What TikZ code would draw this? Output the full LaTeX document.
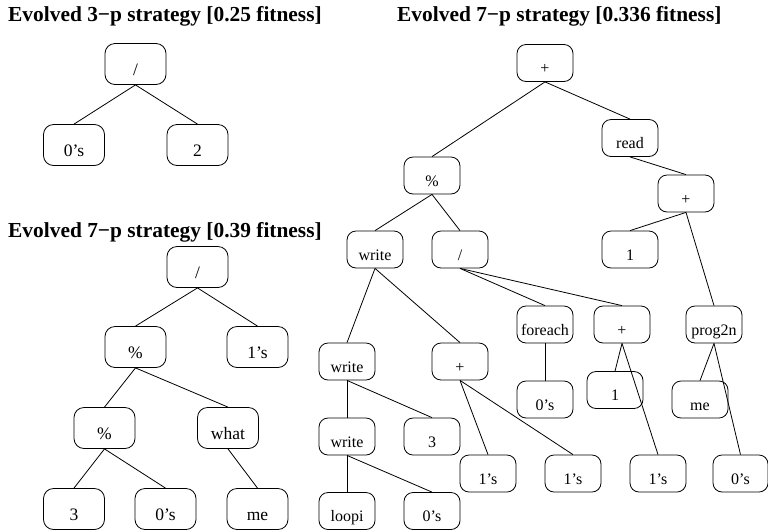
\documentclass[tikz,border=0pt]{standalone}
\usepackage{fontspec}
\setmainfont{Liberation Serif}
\begin{document}
\begin{tikzpicture}[x=1pt,y=-1pt,
  bxL/.style={draw, rounded corners=10pt, minimum width=61pt, minimum height=41pt, inner sep=0pt, text height=23pt, text depth=0pt, font=\fontsize{17.5}{20}\selectfont, line width=0.8pt},
  bxR/.style={draw, rounded corners=9pt, minimum width=56pt, minimum height=37pt, inner sep=0pt, text height=21pt, text depth=0pt, font=\fontsize{16}{19}\selectfont, line width=0.8pt},
  ttl/.style={anchor=base west, inner sep=0pt, font=\fontsize{21.4}{25}\selectfont\bfseries},
  edge/.style={line width=0.8pt}]
\useasboundingbox (0,0) rectangle (768,531);

% titles
\node[ttl] (t1) at (8,21) {Evolved 3−p strategy [0.25 fitness]};
\node[ttl] (t2) at (8,237) {Evolved 7−p strategy [0.39 fitness]};
\node[ttl] (t3) at (397,21) {Evolved 7−p strategy [0.336 fitness]};

% tree 1
\node[bxL] (a0) at (135.5,64) {/};
\node[bxL] (a1) at (74,145) {0's};
\node[bxL] (a2) at (197.5,145) {2};
\draw[edge] (a0.south) -- (a1.north);
\draw[edge] (a0.south) -- (a2.north);

% tree 2
\node[bxL] (b0) at (197.5,267) {/};
\node[bxL] (b1) at (135.5,347) {\%};
\node[bxL] (b2) at (257.5,347) {1's};
\node[bxL] (b3) at (104.5,428) {\%};
\node[bxL] (b4) at (228,428) {what};
\node[bxL] (b5) at (74,509) {3};
\node[bxL] (b6) at (165.5,509) {0's};
\node[bxL] (b7) at (257.5,509) {me};
\draw[edge] (b0.south) -- (b1.north);
\draw[edge] (b0.south) -- (b2.north);
\draw[edge] (b1.south) -- (b3.north);
\draw[edge] (b1.south) -- (b4.north);
\draw[edge] (b3.south) -- (b5.north);
\draw[edge] (b3.south) -- (b6.north);
\draw[edge] (b4.south) -- (b7.north);

% tree 3
\node[bxR] (c0) at (545,63) {+};
\node[bxR] (c1) at (630,138) {read};
\node[bxR] (c2) at (432,175.5) {\%};
\node[bxR] (c3) at (686,193.5) {+};
\node[bxR] (c4) at (375,249.5) {write};
\node[bxR] (c5) at (460,249.5) {/};
\node[bxR] (c6) at (630,249.5) {1};
\node[bxR] (c7) at (545,324.5) {foreach};
\node[bxR] (c8) at (622,324.5) {+};
\node[bxR] (c9) at (714,324.5) {prog2n};
\node[bxR] (c10) at (347,361.5) {write};
\node[bxR] (c11) at (460,361.5) {+};
\node[bxR] (c12) at (545,399.5) {0's};
\node[bxR] (c13) at (615,390) {1};
\node[bxR] (c14) at (700,399.5) {me};
\node[bxR] (c15) at (347,436.5) {write};
\node[bxR] (c16) at (432,436.5) {3};
\node[bxR] (c17) at (488,473.5) {1's};
\node[bxR] (c18) at (573,473.5) {1's};
\node[bxR] (c19) at (658,473.5) {1's};
\node[bxR, minimum width=55pt] (c20) at (740.5,473.5) {0's};
\node[bxR] (c21) at (347,511) {loopi};
\node[bxR] (c22) at (432,511) {0's};

\draw[edge] (c0.south) -- (c2.north);
\draw[edge] (c0.south) -- (c1.north);
\draw[edge] (c1.south) -- (c3.north);
\draw[edge] (c2.south) -- (c4.north);
\draw[edge] (c2.south) -- (c5.north);
\draw[edge] (c3.south) -- (c6.north);
\draw[edge] (c3.south) -- (c9.north);
\draw[edge] (c4.south) -- (c10.north);
\draw[edge] (c4.south) -- (c11.north);
\draw[edge] (c5.south) -- (c7.north);
\draw[edge] (c5.south) -- (c8.north);
\draw[edge] (c7.south) -- (c12.north);
\draw[edge] (c8.south) -- (c13.north);
\draw[edge] (c8.south) -- (c19.north);
\draw[edge] (c9.south) -- (c14.north);
\draw[edge] (c9.south) -- (c20.north);
\draw[edge] (c10.south) -- (c15.north);
\draw[edge] (c10.south) -- (c16.north);
\draw[edge] (c11.south) -- (c17.north);
\draw[edge] (c11.south) -- (c18.north);
\draw[edge] (c15.south) -- (c21.north);
\draw[edge] (c15.south) -- (c22.north);
\end{tikzpicture}
\end{document}
